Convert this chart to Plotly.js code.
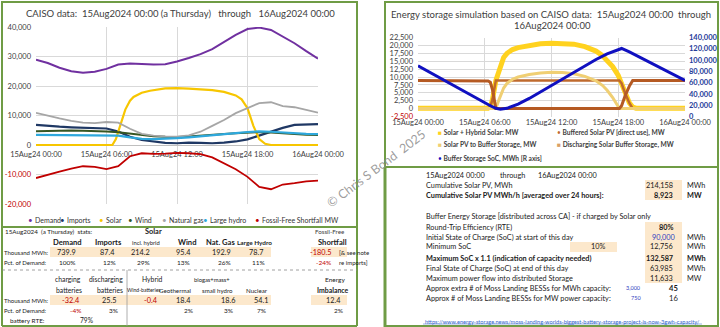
<!DOCTYPE html>
<html><head><meta charset="utf-8">
<script src="https://cdn.plot.ly/plotly-3.0.1.min.js"></script>
<style>html,body{margin:0;padding:0;background:#fff;}#chart{width:720px;height:327px;}</style>
</head><body><div id="chart"></div>
<script>
// ---------- LEFT CHART DATA (MW) ----------
const hours = [0,1,2,3,4,5,6,7,8,9,10,11,12,13,14,15,16,17,18,19,20,21,22,23,24];
const demandMW = [28900,27800,26200,25000,24500,24800,25800,27300,27600,27400,27300,27400,28300,29500,30800,32500,34800,37300,39300,39800,39000,36800,34500,31800,29300];
const importsMW = [6800,6400,6200,6000,5900,5800,5600,4600,2800,1700,1100,700,600,800,700,600,800,1200,1900,3200,4500,5800,6800,7000,7100];
const windMW = [4700,4800,4900,4900,4800,4800,4600,4300,3800,3300,3000,2800,2700,2900,3100,3400,3700,4000,4300,4400,4200,3900,3700,3500,3400];
const gasMW = [10900,9900,9000,8200,7600,7400,7800,7600,5500,3800,3200,2900,2800,3300,4500,6500,8500,10800,12600,14200,14500,13200,12800,11800,11000];
const hydroMW = [3400,3400,3400,3400,3300,3400,3400,3200,2600,2100,2000,2100,2300,2600,2900,3200,3600,4000,4400,4600,4500,4200,4000,3800,3700];
const shortfallMW = [-11200,-10000,-9000,-8000,-7200,-7400,-8200,-7200,-3800,-2800,-3000,-2900,-2700,-2800,-3100,-4200,-6200,-8200,-10800,-14200,-15000,-13400,-12900,-12300,-12100];
const solarHours = [0,6.5,6.8,7.2,7.6,8,8.3,9,9.7,11,12,13,14,15,16,17,17.5,18,18.5,19,19.5,20,24];
const solarMW = [0,0,2000,7000,12000,15000,16300,17700,18400,19200,19300,19100,18900,18600,18000,16800,15500,12500,6500,2000,400,0,0];

// ---------- RIGHT CHART DATA ----------
const solarHybridHours = [0,6.3,6.5,6.7,7,7.3,7.7,8,8.5,9,10,11,12,13,14,15,15.5,16,16.5,17,17.5,18,18.3,18.6,19,19.3,19.6,24];
const solarHybridMW = [150,150,600,3000,8900,12500,16200,17500,18700,19300,20000,20500,20700,20700,20400,19600,19000,18200,17000,15300,13300,10500,8000,5000,1800,500,150,150];
const bufferedHours = [0,6.3,6.5,6.7,7,18.1,18.3,18.6,19,19.3,24];
const bufferedMW = [0,150,600,3000,8923,8923,8000,5000,1800,0,0];
const toBufferHours = [0,7,7.3,7.7,8,8.5,9,10,11,12,13,14,15,16,16.6,17,17.5,18,18.1,24];
const toBufferMW = [0,0,3000,6500,8000,9300,10000,10800,11300,11500,11400,11000,10200,8800,7300,5800,3500,800,0,0];
const dischargeHours = [0,6.3,6.5,6.7,7,18.1,18.3,18.6,19,19.3,24];
const dischargeMW = [8923,8773,8323,5923,0,0,923,3923,7123,8923,8923];
const socHours = [0,1,2,3,4,5,6,6.5,7,7.4,8,9,10,11,12,13,14,15,16,17,18,18.3,19,20,21,22,23,24];
const socMWh = [90000,79000,68000,57000,46000,35000,24500,19000,14500,12756,14500,22000,32000,43500,55500,67500,79500,90500,101000,111000,119000,120534,114500,104500,94500,84500,74500,63985];

// ---------- TICK LABELS ----------
const xTickHours = [0,6,12,18,24];
const xTickLabels = ['15Aug24 00:00','15Aug24 06:00','15Aug24 12:00','15Aug24 18:00','16Aug24 00:00'];
const leftYTicks = [-20000,-10000,0,10000,20000,30000,40000];
const rightYTicks = [-2500,0,2500,5000,7500,10000,12500,15000,17500,20000,22500];
const socTicks = [0,20000,40000,60000,80000,100000,120000,140000];

// ---------- LEFT TABLE DATA ----------
const statThousandMWh = [739.9, 87.4, 214.2, 95.4, 192.9, 78.7, -180.5];
const statPct = [100, 12, 29, 13, 26, 11, -24];
const stat2ThousandMWh = [-32.4, 25.5, -0.4, 18.4, 18.6, 54.1, 12.4];
const stat2Pct = [-4, 3, null, 2, 3, 7, 2];
const batteryRTE = 79;

// ---------- RIGHT TABLE DATA ----------
const cumulativeSolarMWh = 214158;
const avgSolarMW = 8923;
const rtePct = 80;
const initialSoC = 90000;
const minSoCPct = 10;
const minSoC = 12756;
const maxSoCx11 = 132587;
const finalSoC = 63985;
const maxPowerFlow = 11633;
const mossMWh = 3000, mossMW = 750;
const extraBessMWh = 45, extraBessMW = 16;

// ---------- HELPERS ----------
const W = 720, H = 327;
const F = 'Lato, "Liberation Sans", sans-serif';
const px = x => x / W, py = y => 1 - y / H;
const fmt = v => v.toLocaleString('en-US');
const RED = '#C00000', TXT = '#1A1A1A';
const ann = [];
function A(x, y, text, size, o) {
  o = o || {};
  ann.push({xref:'paper', yref:'paper', x:px(x), y:py(y), text:text, showarrow:false,
    xanchor:o.xa||'left', yanchor:'middle', textangle:o.angle||0,
    font:{family:F, size:size, color:o.color||TXT}});
}
const shapes = [];
function R(x0,y0,x1,y1,fill,line,lw,dash){
  shapes.push({type:'rect', xref:'paper', yref:'paper', x0:px(x0), x1:px(x1), y0:py(y1), y1:py(y0),
    fillcolor:fill||'rgba(0,0,0,0)', line:{color:line||'rgba(0,0,0,0)', width:lw||0, dash:dash||'solid'}, layer:'below'});
}
function L(x0,y0,x1,y1,color,lw,dash){
  shapes.push({type:'line', xref:'paper', yref:'paper', x0:px(x0), x1:px(x1), y0:py(y0), y1:py(y1),
    line:{color:color, width:lw, dash:dash||'solid'}});
}
const GREEN = '#6F9C45', BEIGE = '#FCE8CC';

// ---------- TRACES ----------
const ln = (x,y,name,color,w,xa,ya) => ({x:x, y:y, name:name, type:'scatter', mode:'lines',
  line:{color:color, width:w}, xaxis:xa||'x', yaxis:ya||'y', showlegend:false, hoverinfo:'skip'});
const traces = [
  ln(hours, demandMW, 'Demand', '#7030A0', 2),
  ln(hours, importsMW, 'Imports', '#1F3864', 2.2),
  ln(solarHours, solarMW, 'Solar', '#F7C600', 2.2),
  ln(hours, windMW, 'Wind', '#375623', 2),
  ln(hours, gasMW, 'Natural gas', '#A6A6A6', 1.8),
  ln(hours, hydroMW, 'Large hydro', '#2EA8DC', 2.2),
  ln(hours, shortfallMW, 'Fossil-Free Shortfall MW', RED, 1.8),
  ln(solarHybridHours, solarHybridMW, 'Solar + Hybrid Solar: MW', '#FFD21F', 5, 'x2', 'y2'),
  ln(bufferedHours, bufferedMW, 'Buffered Solar PV [direct use], MW', '#BF6A2E', 2.5, 'x2', 'y2'),
  ln(toBufferHours, toBufferMW, 'Solar PV to Buffer Storage, MW', '#F0CF73', 3, 'x2', 'y2'),
  ln(dischargeHours, dischargeMW, 'Discharging Solar Buffer Storage, MW', '#B55A23', 3, 'x2', 'y2'),
  ln(socHours, socMWh, 'Buffer Storage SoC, MWh [R axis]', '#1010C0', 3, 'x2', 'y3')
];

// ---------- PANEL FRAMES ----------
R(2,2,357,227,null,GREEN,2);
L(2,227,2,326,GREEN,2); L(357,227,357,326,GREEN,2); L(2,326,357,326,GREEN,2);
R(385,2,718,167,null,GREEN,2);
L(385,167,385,327,GREEN,3); L(718,167,718,327,GREEN,2); L(385,326,718,326,GREEN,2);

// ---------- TITLES ----------
A(180,13,'CAISO data:\u00A0 15Aug2024 00:00 (a Thursday)\u00A0\u00A0 through\u00A0\u00A0 16Aug2024 00:00',9.5,{xa:'center',color:'#404040'});
A(551,14,'Energy storage simulation based on CAISO data:\u00A0 15Aug2024 00:00\u00A0 through',9.5,{xa:'center',color:'#404040'});
A(552,25,'16Aug2024 00:00',9.5,{xa:'center',color:'#404040'});

// ---------- LEFT LEGEND (marker x, text x) ----------
const leftLegend = [['Demand','#7030A0',30,33],['Imports','#1F3864',62,65],['Solar','#F7C600',101,104],['Wind','#375623',130,133],
  ['Natural gas','#A6A6A6',164,167],['Large hydro','#2EA8DC',205,208],['Fossil-Free Shortfall MW',RED,257,260]];
leftLegend.forEach(l => { A(l[2],220,'•',8,{xa:'center',color:l[1]}); A(l[3],220,l[0],7,{color:'#333'}); });

// ---------- RIGHT LEGEND ----------
const rightLegend = [['Solar + Hybrid Solar: MW','#FFD21F','■',436,132],['Buffered Solar PV [direct use], MW','#BF6A2E','•',555,132],
  ['Solar PV to Buffer Storage, MW','#F0CF73','■',436,145],['Discharging Solar Buffer Storage, MW','#D9A066','■',555,145],
  ['Buffer Storage SoC, MWh [R axis]','#1010C0','•',436,158]];
rightLegend.forEach(l => A(l[3],l[4],'<span style="color:'+l[1]+'">'+l[2]+'</span> <b>'+l[0]+'</b>',6.6,{color:'#404040'}));

// ---------- WATERMARK ----------
A(376,168,'© Chris S Bond\u00A0 2025',12.5,{xa:'center',angle:-37,color:'rgba(140,140,140,0.85)'});

// ---------- LEFT TABLE ----------
const r = [231,242,252,262,279,290,300,310,320];
R(50,r[2]-5,271,r[2]+5,BEIGE); R(311,r[2]-5,347,r[2]+5,BEIGE);
R(50,r[6]-5,271,r[6]+5,BEIGE); R(311,r[6]-5,347,r[6]+5,BEIGE);
L(2,270,357,270,'#888',0.8,'dot');
L(127,270,127,326,'#999',0.8,'solid');
A(3,r[0],'15Aug2024\u00A0 (a Thursday)\u00A0 stats:',6.3);
A(153,r[0],'<b>Solar</b>',7.4,{xa:'center'});
A(347,r[0],'Fossil-Free',6.2,{xa:'right',color:'#404040'});
const hdr = [['Demand',67,7.6],['Imports',108,7.6],['Wind',187,7.6],['Nat. Gas',220,7.6],['Large Hydro',254,6.4],['Shortfall',332,7.6]];
hdr.forEach(h => A(h[1],r[1],'<b>'+h[0]+'</b>',h[2],{xa:'center'}));
A(146,r[1],'incl. hybrid',5.8,{xa:'center'});
A(2,r[2],'Thousand MWh:',6); A(2,r[3],'Pct. of Demand:',6);
const valX = [78,117,152,193,233,265,333];
const pctX = [78,118,152,192,233,267,333];
statThousandMWh.forEach((v,i) => A(valX[i],r[2],v.toFixed(1),7.3,{xa:'right',color:v<0?RED:TXT}));
statPct.forEach((v,i) => A(pctX[i],r[3],v+'%',6.5,{xa:'right',color:v<0?RED:TXT}));
A(337,r[2],'[& see note',6,{}); A(337,r[3],'re imports]',6,{});
// lower section
A(83,r[4],'charging',6.8,{xa:'right'}); A(125,r[4],'discharging',6.8,{xa:'right'});
A(152,r[4],'Hybrid',6.8,{xa:'center'}); A(212,r[4],'biogas+mass+',5.8,{xa:'center'});
A(335,r[4],'Energy',6.5,{xa:'center'});
A(84,r[5],'batteries',6.8,{xa:'right'}); A(125,r[5],'batteries',6.8,{xa:'right'});
A(163,r[5],'Wind-batteries',5.1,{xa:'right'}); A(193,r[5],'Geothermal',6.2,{xa:'right'});
A(235,r[5],'small hydro',6.1,{xa:'right'}); A(270,r[5],'Nuclear',6.2,{xa:'right'});
A(333,r[5],'<b>Imbalance</b>',6.9,{xa:'center'});
A(2,r[6],'Thousand MWh:',6); A(2,r[7],'Pct. of Demand:',6); A(8,r[8],'battery RTE:',6.4);
const val2X = [82,118,160,193,237,270,343];
const pct2X = [83,120,160,195,235,268,345];
stat2ThousandMWh.forEach((v,i) => A(val2X[i],r[6],v.toFixed(1),7.3,{xa:'right',color:v<0?RED:TXT}));
stat2Pct.forEach((v,i) => { if (v!==null) A(pct2X[i],r[7],v+'%',6.5,{xa:'right',color:v<0?RED:TXT}); });
A(95,r[8],batteryRTE+'%',6.6,{xa:'right'});

// ---------- RIGHT TABLE ----------
const q = {a:175,b:185,c:195,d:216,e:227,f:237,g:247,h:258,i:268,j:278,k:288,l:298,m:321};
R(645,q.b-5,682,q.c+5,BEIGE); R(645,q.e-5,682,q.j+5,BEIGE); R(570,q.g-5,617,q.g+5,BEIGE);
const TS = 7.3;
A(424,q.a,'15Aug2024 00:00',TS); A(498,q.a,'through',TS); A(536,q.a,'16Aug2024 00:00',TS);
A(424,q.b,'Cumulative Solar PV, MWh',TS); A(675,q.b,fmt(cumulativeSolarMWh),TS,{xa:'right'}); A(685,q.b,'MWh',TS);
A(424,q.c,'<b>Cumulative Solar PV MWh/h [averaged over 24 hours]:</b>',TS); A(675,q.c,'<b>'+fmt(avgSolarMW)+'</b>',TS,{xa:'right'}); A(685,q.c,'<b>MW</b>',TS);
A(424,q.d,'Buffer Energy Storage [distributed across CA] - if charged by Solar only',TS);
A(424,q.e,'Round-Trip Efficiency (RTE)',TS); A(675,q.e,'<b>'+rtePct+'%</b>',TS,{xa:'right'});
A(424,q.f,'Initial State of Charge (SoC) at start of this day',TS); A(678,q.f,fmt(initialSoC),TS,{xa:'right',color:'#2F3CC0'}); A(685,q.f,'MWh',TS);
A(424,q.g,'Minimum SoC',TS); A(607,q.g,minSoCPct+'%',TS,{xa:'right'}); A(675,q.g,fmt(minSoC),TS,{xa:'right'}); A(685,q.g,'MWh',TS);
A(424,q.h,'<b>Maximum SoC x 1.1 (indication of capacity needed)</b>',TS); A(675,q.h,'<b>'+fmt(maxSoCx11)+'</b>',TS,{xa:'right'}); A(685,q.h,'<b>MWh</b>',TS);
A(424,q.i,'Final State of Charge (SoC) at end of this day',TS); A(675,q.i,fmt(finalSoC),TS,{xa:'right'}); A(685,q.i,'MWh',TS);
A(424,q.j,'Maximum power flow into distributed Storage',TS); A(675,q.j,fmt(maxPowerFlow),TS,{xa:'right'}); A(685,q.j,'MW',TS);
A(424,q.k,'Approx extra # of Moss Landing BESSs for MWh capacity:',TS); A(643,q.k,fmt(mossMWh),5.5,{xa:'right',color:'#3040C0'}); A(680,q.k,'<b>'+extraBessMWh+'</b>',7.6,{xa:'right'});
A(424,q.l,'Approx # of Moss Landing BESSs for MW power capacity:',TS); A(643,q.l,fmt(mossMW),5.5,{xa:'right',color:'#3040C0'}); A(680,q.l,extraBessMW,7.6,{xa:'right'});
A(423,q.m,'https://www.energy-storage.news/moss-landing-worlds-biggest-battery-storage-project-is-now-3gwh-capacity/',5.6,{color:'#3366CC'});
L(423,q.m+3,702,q.m+3,'#3366CC',0.5);

// ---------- LAYOUT ----------
const tickF = {family:F, size:7.5, color:'#404040'};
const layout = {
  width:W, height:H, margin:{l:0,r:0,t:0,b:0}, paper_bgcolor:'#fff', plot_bgcolor:'rgba(0,0,0,0)',
  showlegend:false, font:{family:F},
  xaxis:{domain:[px(36),px(318)], range:[0,24], tickvals:xTickHours, ticktext:xTickLabels, tickfont:tickF,
    showgrid:true, gridcolor:'#D9D9D9', zeroline:false, showline:false, anchor:'free', position:py(145),
    ticks:'', ticklabelstandoff:3, layer:'below traces', fixedrange:true},
  yaxis:{domain:[py(204),py(27)], range:[-20000,40000], tickvals:leftYTicks,
    ticktext:leftYTicks.map(v => v<0 ? '<span style="color:'+RED+'">'+fmt(v)+'</span>' : fmt(v)),
    tickfont:tickF, gridcolor:'#D9D9D9', zeroline:true, zerolinecolor:'#BFBFBF', zerolinewidth:1, showline:false, ticks:'', ticklabelstandoff:4},
  xaxis2:{domain:[px(418),px(685)], range:[0,24], anchor:'y2', tickvals:xTickHours, ticktext:xTickLabels, tickfont:tickF,
    showgrid:true, gridcolor:'#D9D9D9', zeroline:false, showline:false, ticks:'', ticklabelstandoff:0},
  yaxis2:{domain:[py(116.5),py(37.5)], anchor:'x2', range:[-2500,22500], tickvals:rightYTicks,
    ticktext:rightYTicks.map(v => v<0 ? '<span style="color:'+RED+'">'+fmt(v)+'</span>' : fmt(v)),
    tickfont:tickF, gridcolor:'#D9D9D9', zeroline:false, showline:false, ticks:'', ticklabelstandoff:4},
  yaxis3:{overlaying:'y2', side:'right', anchor:'x2', range:[0,140000], tickvals:socTicks,
    ticktext:socTicks.map(v => '<b>'+fmt(v)+'</b>'), tickfont:{family:F,size:7.5,color:'#1F3C99'},
    showgrid:false, zeroline:false, showline:false, ticks:'', ticklabelstandoff:3},
  shapes:shapes, annotations:ann
};
Plotly.newPlot('chart', traces, layout, {displayModeBar:false, staticPlot:true});
</script></body></html>
